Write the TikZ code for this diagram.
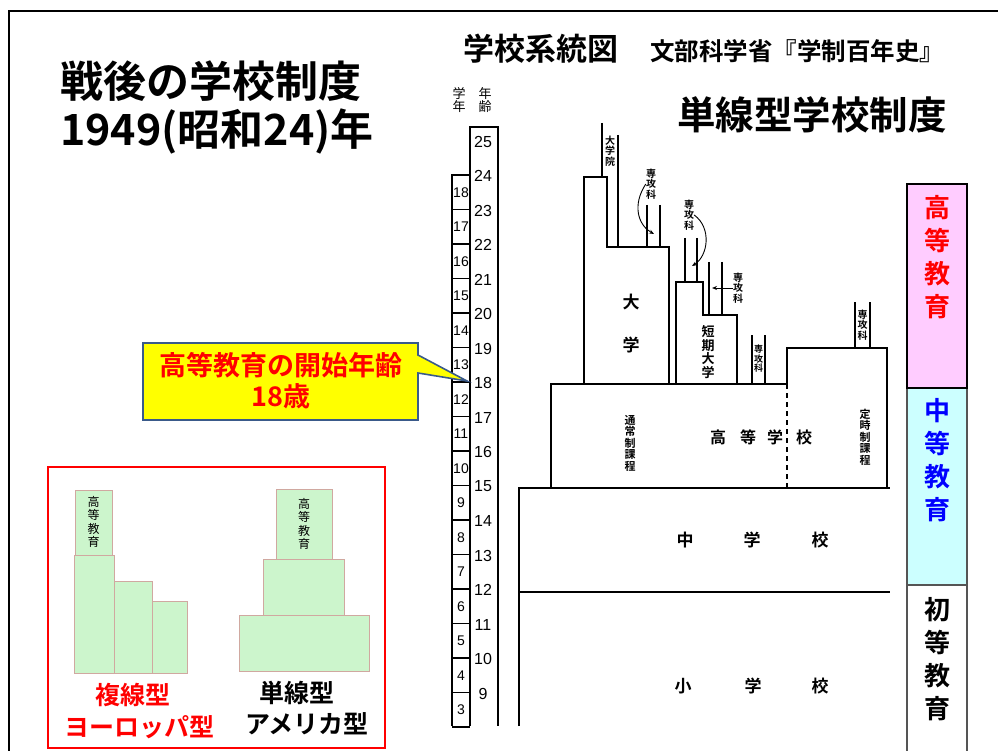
\documentclass[tikz,border=0pt]{standalone}
\usepackage{fontspec}
\setmainfont{Noto Sans CJK JP}[BoldFont=* Bold]
\newfontfamily\numfont{Liberation Sans}
\usetikzlibrary{arrows.meta}
\definecolor{pinkbar}{HTML}{FFCCFF}
\definecolor{cyanbar}{HTML}{CCFFFF}
\definecolor{calloutyellow}{HTML}{FFFF00}
\definecolor{calloutedge}{HTML}{3A5A8A}
\definecolor{lightgreen}{HTML}{CCF5CC}
\definecolor{greenedge}{HTML}{D0A8A0}
\definecolor{bargray}{HTML}{555555}
\begin{document}
\begin{tikzpicture}[x=1pt,y=-1pt,
  scanline/.style={line width=1.2pt, black},
  baseline2/.style={line width=2.2pt, black},
  vsmall/.style={inner sep=0pt, align=center, font=\fontsize{10}{10.5}\selectfont},
  scantext/.style={inner sep=0pt, font=\fontsize{17}{17}\selectfont\bfseries},
  agenum/.style={inner sep=0pt, font=\numfont\fontsize{16}{16}\selectfont},
  gradenum/.style={inner sep=0pt, font=\numfont\fontsize{14}{14}\selectfont},
  bartext/.style={inner sep=0pt, align=center, font=\fontsize{26}{33}\selectfont\bfseries},
  greenbox/.style={fill=lightgreen, draw=greenedge, line width=0.8pt},
  minilabel/.style={inner sep=0pt, align=center, font=\fontsize{12}{13.5}\selectfont},
  typelabel/.style={inner sep=0pt, font=\fontsize{25}{25}\selectfont\bfseries},
  arr/.style={-{Stealth[length=5pt,width=4pt]}, line width=0.9pt}
]
\useasboundingbox (0,0) rectangle (998,751);

% outer frame
\draw[line width=2pt] (9,751) -- (9,11) -- (998,11);

% titles
\node[anchor=west, inner sep=0pt, font=\fontsize{43}{43}\selectfont\bfseries] (title1) at (60,81) {戦後の学校制度};
\node[anchor=west, inner sep=0pt, font=\fontsize{43}{43}\selectfont\bfseries] (title2) at (60,131) {1949(昭和24)年};
\node[anchor=west, inner sep=0pt, font=\fontsize{31}{31}\selectfont\bfseries] (sys) at (463,49) {学校系統図};
\node[anchor=west, inner sep=0pt, font=\fontsize{24.5}{24.5}\selectfont\bfseries] (src) at (650,51) {文部科学省『学制百年史』};
\node[anchor=west, inner sep=0pt, font=\fontsize{38.5}{38.5}\selectfont\bfseries] (tan) at (677,115) {単線型学校制度};

% grade / age headers
\node[minilabel, font=\fontsize{13}{13.5}\selectfont] (hgrade) at (459,100) {学\\年};
\node[minilabel, font=\fontsize{13}{13.5}\selectfont] (hage) at (485,100) {年\\齢};

% grade column
\draw[scanline] (452,726) -- (452,175) -- (470,175);
\foreach \g in {3,...,18}{
  \pgfmathsetmacro{\yt}{175+(18-\g)*34.5}
  \pgfmathsetmacro{\yc}{\yt+17.25}
  \pgfmathsetmacro{\yb}{\yt+34.5}
  \draw[scanline] (452,\yb) -- (470,\yb);
  \node[gradenum] (g\g) at (461,\yc) {\g};
}
% age column
\draw[scanline] (470,726) -- (470,127) -- (498,127) -- (498,726);
\foreach \a in {9,...,25}{
  \pgfmathsetmacro{\ya}{383-(\a-18)*34.5}
  \node[agenum] (age\a) at (483,\ya) {\a};
}

% primary / lower secondary
\draw[baseline2] (519,726) -- (519,488) -- (890,488);
\draw[scanline] (519,592) -- (890,592);
\node[scantext] (chu1) at (685,540) {中};
\node[scantext] (chu2) at (752,540) {学};
\node[scantext] (chu3) at (820,540) {校};
\node[scantext] (sho1) at (683,686) {小};
\node[scantext] (sho2) at (753,686) {学};
\node[scantext] (sho3) at (820,686) {校};

% upper secondary
\draw[line width=1.6pt] (551,488) -- (551,384) -- (787,384);
\draw[line width=1.4pt, dash pattern=on 5pt off 4pt] (787,384) -- (787,488);
\draw[scanline] (787,384) -- (787,348) -- (887,348) -- (887,488);
\node[vsmall, font=\fontsize{11}{11.5}\selectfont\bfseries] (tsujo) at (630,443) {通\\常\\制\\課\\程};
\node[scantext, font=\fontsize{16}{16}\selectfont\bfseries] (ko1) at (718,437) {高};
\node[scantext, font=\fontsize{16}{16}\selectfont\bfseries] (ko2) at (748,437) {等};
\node[scantext, font=\fontsize{16}{16}\selectfont\bfseries] (ko3) at (775,437) {学};
\node[scantext, font=\fontsize{16}{16}\selectfont\bfseries] (ko4) at (804,437) {校};
\node[vsmall, font=\fontsize{11}{11.5}\selectfont\bfseries] (teiji) at (865,437) {定\\時\\制\\課\\程};

% university
\draw[scanline] (584,384) -- (584,177) -- (607,177) -- (607,247) -- (669,247) -- (669,384);
\draw[scanline] (602,123) -- (602,177);
\draw[scanline] (618,135) -- (618,247);
\node[vsmall, font=\fontsize{10}{10.5}\selectfont\bfseries] (daigakuin) at (610,151) {大\\学\\院};
\node[scantext] (dai1) at (631,302) {大};
\node[scantext] (dai2) at (631,345) {学};
\draw[scanline] (647,205) -- (647,247);
\draw[scanline] (660,205) -- (660,247);
\node[vsmall, font=\fontsize{10}{10.5}\selectfont\bfseries] (senko1) at (651,184) {専\\攻\\科};
\coordinate (s1end) at (654,234);
\draw[arr] (senko1.west) .. controls (632,205) and (638,225) .. (s1end);

% junior college
\draw[scanline] (676,384) -- (676,282) -- (703,282) -- (703,315) -- (737,315) -- (737,384);
\node[vsmall, font=\fontsize{13}{13.5}\selectfont\bfseries] (tanki) at (708,352) {短\\期\\大\\学};
\draw[scanline] (685,238) -- (685,282);
\draw[scanline] (697,238) -- (697,282);
\node[vsmall, font=\fontsize{10}{10.5}\selectfont\bfseries] (senko2) at (689,215) {専\\攻\\科};
\coordinate (s2end) at (692,266);
\draw[arr] (senko2.east) .. controls (712,228) and (708,256) .. (s2end);
\draw[scanline] (709,262) -- (709,315);
\draw[scanline] (722,262) -- (722,315);
\node[vsmall, font=\fontsize{10}{10.5}\selectfont\bfseries] (senko3) at (738,288) {専\\攻\\科};
\coordinate (s3end) at (712,288);
\draw[arr] (senko3.west) -- (s3end);

% other advanced courses
\draw[scanline] (752,335) -- (752,384);
\draw[scanline] (765,335) -- (765,384);
\node[vsmall, font=\fontsize{9}{9.5}\selectfont\bfseries] (senko4) at (758.5,359) {専\\攻\\科};
\draw[scanline] (855,302) -- (855,348);
\draw[scanline] (870,302) -- (870,348);
\node[vsmall, font=\fontsize{10}{10.5}\selectfont\bfseries] (senko5) at (862.5,325) {専\\攻\\科};

% callout
\coordinate (tip) at (467,381);
\draw[fill=calloutyellow, draw=calloutedge, line width=1.6pt, line join=miter]
  (143,343) -- (418,343) -- (418,355) -- (tip) -- (418,373) -- (418,420) -- (143,420) -- cycle;
\node[inner sep=0pt, align=center, text=red, font=\fontsize{27}{31}\selectfont\bfseries] (callout) at (281,381) {高等教育の開始年齢\\18歳};

% right colour bar
\draw[fill=cyanbar, draw=bargray, line width=1.4pt] (907,388) rectangle (967,585);
\draw[draw=bargray, line width=1.4pt] (907,751) -- (907,585) -- (967,585) -- (967,751);
\draw[fill=pinkbar, draw=black, line width=2pt] (907,184) rectangle (967,388);
\node[bartext, text=red] (koto) at (937,257) {高\\等\\教\\育};
\node[bartext, text=blue] (chuto) at (937,460) {中\\等\\教\\育};
\node[bartext, text=black] (shoto) at (937,659) {初\\等\\教\\育};

% comparison box
\draw[red, line width=1.2pt] (48,467) rectangle (385,748);
\draw[greenbox] (75,490) rectangle (112,555);
\draw[greenbox] (74,555) rectangle (114,673);
\draw[greenbox] (114,581) rectangle (152,673);
\draw[greenbox] (152,601) rectangle (187,673);
\node[minilabel] (euhigher) at (93.5,522) {高\\等\\教\\育};
\draw[greenbox] (276,489) rectangle (332,559);
\draw[greenbox] (263,559) rectangle (344,615);
\draw[greenbox] (239,615) rectangle (369,671);
\node[minilabel] (ushigher) at (304,524) {高\\等\\教\\育};
\node[typelabel, text=red] (fukusen) at (133,695) {複線型};
\node[typelabel, text=red] (europe) at (139,727) {ヨーロッパ型};
\node[typelabel] (tansen) at (297,693) {単線型};
\node[typelabel] (america) at (307,724) {アメリカ型};

\end{tikzpicture}
\end{document}
